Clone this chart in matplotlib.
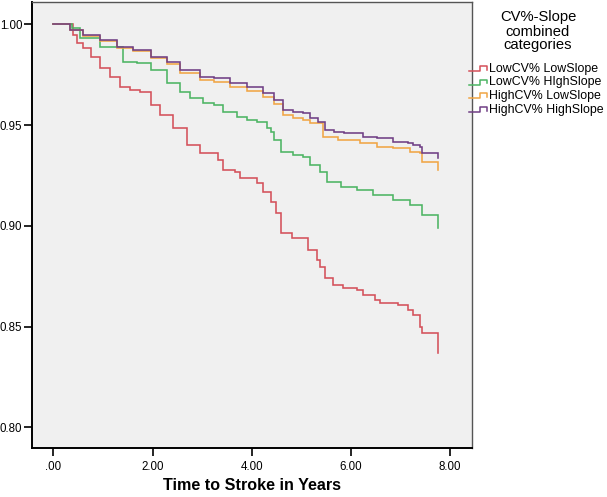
import matplotlib
matplotlib.use("Agg")
import matplotlib.pyplot as plt
from matplotlib.lines import Line2D

plt.rcParams['font.family'] = ['Liberation Sans', 'DejaVu Sans']

# ---------------- data ----------------
series_names = ["LowCV% LowSlope", "LowCV% HIghSlope", "HighCV% LowSlope", "HighCV% HighSlope"]
series_colors = ["#d4505a", "#4cb463", "#f0a545", "#703f85"]

red_t = [0.00, 0.40, 0.48, 0.60, 0.75, 0.95, 1.15, 1.35, 1.55, 1.75, 1.96, 2.16, 2.42, 2.70, 2.96,
         3.31, 3.43, 3.67, 3.77, 4.11, 4.23, 4.38, 4.48, 4.58, 4.82, 5.14, 5.32, 5.38, 5.48, 5.63,
         5.83, 6.13, 6.25, 6.49, 6.59, 6.94, 7.14, 7.26, 7.40, 7.44, 7.76]
red_s = [1.000, 0.9945, 0.9906, 0.9881, 0.9836, 0.9782, 0.9737, 0.9688, 0.9673, 0.9663, 0.9598,
         0.9549, 0.9484, 0.9400, 0.9360, 0.9325, 0.9276, 0.9266, 0.9236, 0.9211, 0.9167, 0.9117,
         0.9062, 0.8963, 0.8938, 0.8879, 0.8829, 0.8795, 0.8740, 0.8705, 0.8690, 0.8681, 0.8656,
         0.8631, 0.8616, 0.8606, 0.8581, 0.8557, 0.8497, 0.8467, 0.8367]

green_t = [0.00, 0.38, 0.54, 0.95, 1.41, 1.69, 1.96, 2.30, 2.56, 2.76, 3.02, 3.23, 3.43, 3.71, 3.91,
           4.11, 4.31, 4.38, 4.44, 4.58, 4.84, 5.04, 5.18, 5.38, 5.52, 5.79, 6.13, 6.45, 6.85, 7.20,
           7.44, 7.76]
green_s = [1.000, 0.9980, 0.9931, 0.9886, 0.9812, 0.9807, 0.9772, 0.9707, 0.9663, 0.9633, 0.9608,
           0.9598, 0.9563, 0.9539, 0.9524, 0.9514, 0.9484, 0.9464, 0.9425, 0.9365, 0.9350, 0.9340,
           0.9301, 0.9266, 0.9216, 0.9191, 0.9177, 0.9152, 0.9127, 0.9102, 0.9053, 0.8988]

orange_t = [0.00, 0.34, 0.60, 0.95, 1.29, 1.61, 1.96, 2.30, 2.56, 2.96, 3.23, 3.57, 3.91, 4.23, 4.44,
            4.62, 4.84, 5.04, 5.18, 5.44, 5.73, 6.19, 6.53, 6.85, 7.20, 7.40, 7.44, 7.76]
orange_s = [1.000, 0.9970, 0.9940, 0.9916, 0.9881, 0.9866, 0.9831, 0.9802, 0.9757, 0.9722, 0.9712,
            0.9688, 0.9668, 0.9638, 0.9603, 0.9549, 0.9534, 0.9524, 0.9509, 0.9439, 0.9425, 0.9410,
            0.9390, 0.9385, 0.9365, 0.9360, 0.9315, 0.9276]

purple_t = [0.00, 0.34, 0.60, 0.95, 1.29, 1.61, 1.96, 2.30, 2.56, 2.96, 3.23, 3.57, 3.91, 4.23, 4.44,
            4.62, 4.84, 5.04, 5.18, 5.34, 5.48, 5.65, 5.85, 6.25, 6.53, 6.85, 7.14, 7.26, 7.40, 7.44,
            7.76]
purple_s = [1.000, 0.9970, 0.9945, 0.9921, 0.9886, 0.9871, 0.9836, 0.9812, 0.9772, 0.9737, 0.9732,
            0.9707, 0.9688, 0.9658, 0.9623, 0.9573, 0.9563, 0.9559, 0.9534, 0.9514, 0.9474, 0.9464,
            0.9459, 0.9439, 0.9435, 0.9415, 0.9410, 0.9400, 0.9390, 0.9360, 0.9335]

x_ticks = [0, 2, 4, 6, 8]
x_ticklabels = [".00", "2.00", "4.00", "6.00", "8.00"]
y_ticks = [0.80, 0.85, 0.90, 0.95, 1.00]
y_ticklabels = ["0.80", "0.85", "0.90", "0.95", "1.00"]
x_label = "Time to Stroke in Years"
legend_title_lines = ["CV%-Slope", "combined", "categories"]

# ---------------- figure ----------------
W, H = 607, 497
fig = plt.figure(figsize=(W / 100, H / 100), dpi=100)
fig.patch.set_facecolor("white")
renderer = fig.canvas.get_renderer()


def fit_size(text, target_px, weight="normal"):
    """font size (pt) that gives the text the wanted width in pixels"""
    t = fig.text(0, 0, text, fontsize=10, fontweight=weight)
    w = t.get_window_extent(renderer=renderer).width
    t.remove()
    return 10 * target_px / w


tick_fs = fit_size("2.00", 22.5)
xlabel_fs = fit_size(x_label, 178, "bold")
title_fs = fit_size("CV%-Slope", 76)
entry_fs = fit_size("HighCV% HighSlope", 115)

ax_l, ax_r, ax_b, ax_t = 32, 472, 448, 2   # pixel box of the axes
ax = fig.add_axes([ax_l / W, 1 - ax_b / H, (ax_r - ax_l) / W, (ax_b - ax_t) / H])
ax.set_facecolor("#f0f0f0")

all_t = [red_t, green_t, orange_t, purple_t]
all_s = [red_s, green_s, orange_s, purple_s]
for t, s, c in zip(all_t, all_s, series_colors):
    ax.step(t, s, where="post", color=c, lw=1.15, solid_joinstyle="miter")

ax.set_xlim(-0.43, 8.44)
ax.set_ylim(0.7897, 1.0111)
ax.set_xticks(x_ticks)
ax.set_xticklabels(x_ticklabels)
ax.set_yticks(y_ticks)
ax.set_yticklabels(y_ticklabels)
ax.tick_params(axis="both", direction="out", length=6, width=1.2, labelsize=tick_fs,
               color="black", labelcolor="black")
ax.tick_params(axis="y", pad=1)
ax.tick_params(axis="x", pad=3)
for side in ["left", "bottom"]:
    ax.spines[side].set_linewidth(1.4)
    ax.spines[side].set_color("black")
for side in ["right", "top"]:
    ax.spines[side].set_linewidth(1.0)
    ax.spines[side].set_color("#555555")

ax.set_xlabel(x_label, fontsize=xlabel_fs, fontweight="bold", labelpad=4)

# ---------------- legend (manual, SPSS style) ----------------
def fx(px):
    return px / W


def fy(py):
    return 1 - py / H


for line, yy in zip(legend_title_lines, [17, 31.5, 45]):
    fig.text(fx(538), fy(yy), line, ha="center", va="center", fontsize=title_fs)

entry_y = [69, 82.5, 96, 109.5]
for name, c, yy in zip(series_names, series_colors, entry_y):
    xs = [469, 480, 480, 487, 487]
    ys = [yy + 2, yy + 2, yy - 3, yy - 3, yy + 1]
    fig.add_artist(Line2D([fx(v) for v in xs], [fy(v) for v in ys], color=c, lw=1.1,
                          transform=fig.transFigure))
    fig.text(fx(489), fy(yy), name, ha="left", va="center", fontsize=entry_fs)

fig.savefig("out.png", dpi=100, facecolor="white")
